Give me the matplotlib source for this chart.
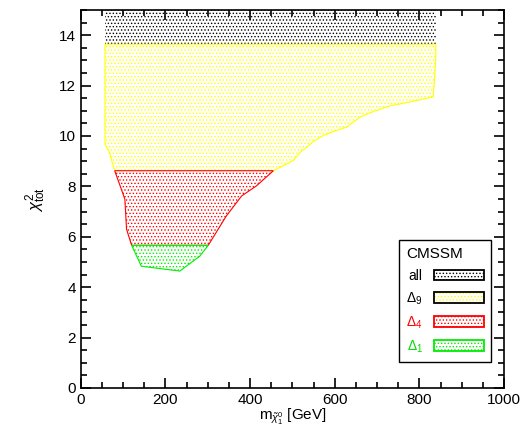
from matplotlib import pyplot as plt
from matplotlib.patches import Rectangle
from matplotlib.ticker import MultipleLocator

plt.rcParams['font.family'] = ['Liberation Sans', 'DejaVu Sans']
plt.rcParams['mathtext.fontset'] = 'custom'
plt.rcParams['mathtext.rm'] = 'Liberation Sans'
plt.rcParams['mathtext.it'] = 'Liberation Sans:italic'
plt.rcParams['hatch.linewidth'] = 0.6

# region boundaries (neutralino mass [GeV], chi2_tot)
all_x = [57, 839, 839, 57]
all_y = [15.0, 15.0, 13.64, 13.64]

d9_x = [57, 839, 839, 833, 778, 730, 691, 660, 628, 604, 573, 549, 534, 518, 502, 455, 80, 67, 57]
d9_y = [13.64, 13.64, 13.14, 11.55, 11.35, 11.19, 10.97, 10.75, 10.35, 10.22, 10.02, 9.78, 9.55,
        9.35, 9.02, 8.62, 8.62, 9.37, 9.68]

d4_x = [80, 455, 415, 380, 344, 301, 120, 108, 104, 96]
d4_y = [8.62, 8.62, 8.02, 7.62, 6.83, 5.66, 5.66, 6.30, 7.49, 7.87]

d1_x = [120, 301, 281, 234, 143]
d1_y = [5.66, 5.66, 5.23, 4.64, 4.83]

labels = ['all', r'$\Delta_9$', r'$\Delta_4$', r'$\Delta_1$']
colors = ['black', 'yellow', 'red', '#00ee00']
box_colors = ['black', 'black', 'red', '#00ee00']
label_colors = ['black', 'black', 'red', '#00dd00']

fig = plt.figure(figsize=(5.25, 4.33), dpi=100)
ax = fig.add_axes([0.154, 0.104, 0.806, 0.873])

regions = [(all_x, all_y), (d9_x, d9_y), (d4_x, d4_y), (d1_x, d1_y)]
for (xs, ys), c in zip(regions, colors):
  lw = 0 if c == 'black' else 0.8
  ax.fill(xs, ys, facecolor='white', edgecolor=c, hatch='.....', linewidth=lw)

ax.set_xlim(0, 1000)
ax.set_ylim(0, 15)
ax.xaxis.set_major_locator(MultipleLocator(200))
ax.xaxis.set_minor_locator(MultipleLocator(50))
ax.yaxis.set_major_locator(MultipleLocator(2))
ax.yaxis.set_minor_locator(MultipleLocator(0.5))
ax.tick_params(which='both', direction='in', top=True, right=True, labelsize=11, width=1.2)
ax.tick_params(which='major', length=7)
ax.tick_params(which='minor', length=4)
for s in ax.spines.values():
  s.set_linewidth(1.2)

ax.set_xlabel(r'm$_{\tilde{\chi}^0_1}$ [GeV]', fontsize=11, labelpad=0)
ax.set_ylabel(r'$\chi^2_{\rm tot}$', fontsize=12, labelpad=8)

# legend: hatched patch plus a separate outline box
handles = []
for c, bc in zip(colors, box_colors):
  fillp = Rectangle((0, 0), 1, 1, facecolor='white', edgecolor=c, hatch='.....', linewidth=0)
  boxp = Rectangle((0, 0), 1, 1, facecolor='none', edgecolor=bc, linewidth=1.3)
  handles.append((fillp, boxp))
leg = ax.legend(handles, labels, title='CMSSM', loc='lower right', bbox_to_anchor=(0.969, 0.069),
                markerfirst=False, handlelength=3.6, handleheight=0.8, fontsize=10,
                title_fontsize=11, fancybox=False, edgecolor='black', framealpha=1,
                alignment='left', borderpad=0.5, labelspacing=0.55, handletextpad=0.8,
                borderaxespad=0)
leg.get_frame().set_linewidth(1.0)
for t, c in zip(leg.get_texts(), label_colors):
  t.set_color(c)

plt.savefig('out.png', dpi=100)
